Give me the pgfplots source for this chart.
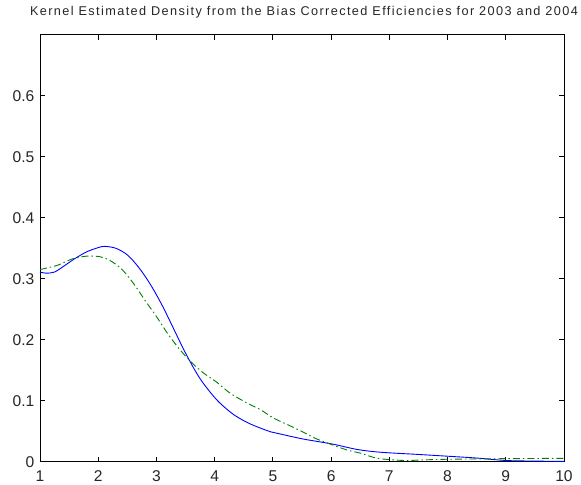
\documentclass[border=0pt]{standalone}
\usepackage{fontspec}
\setmainfont{Liberation Sans}
\newfontfamily\titlefont[LetterSpace=11]{Liberation Sans}
\usepackage{pgfplots}
\pgfplotsset{compat=1.18}

\definecolor{mblue}{RGB}{0,0,255}
\definecolor{mgreen}{RGB}{0,128,0}

% kernel density, 2003 (solid) and 2004 (dash-dot)
\pgfplotstableread{
x y
1.00 0.311
1.10 0.309
1.25 0.311
1.40 0.320
1.60 0.333
1.80 0.344
2.00 0.351
2.11 0.353
2.30 0.350
2.50 0.339
2.70 0.318
2.90 0.290
3.10 0.256
3.30 0.217
3.50 0.178
3.75 0.136
4.04 0.101
4.33 0.077
4.61 0.062
4.96 0.049
5.10 0.046
5.53 0.037
6.02 0.029
6.45 0.020
6.85 0.0155
7.48 0.012
8.00 0.009
8.50 0.006
9.00 0.002
9.50 0.001
10.0 0.0005
}\densityA

\pgfplotstableread{
x y
1.00 0.315
1.30 0.322
1.54 0.332
1.80 0.337
2.03 0.336
2.20 0.330
2.40 0.316
2.60 0.293
2.80 0.265
3.00 0.238
3.20 0.209
3.40 0.184
3.60 0.163
3.80 0.146
4.04 0.130
4.27 0.112
4.56 0.096
4.79 0.085
5.02 0.071
5.27 0.060
5.53 0.048
5.76 0.037
6.04 0.027
6.28 0.019
6.51 0.0138
6.80 0.0055
7.25 0.002
7.60 0.003
8.00 0.004
9.00 0.005
10.0 0.0055
}\densityB

\begin{document}
\begin{tikzpicture}
\useasboundingbox (0,0) rectangle (581bp,485bp);
\begin{axis}[
  at={(40bp,23.3bp)}, anchor=south west,
  width=524bp, height=427bp, scale only axis,
  xmin=1, xmax=10, ymin=0, ymax=0.7,
  xtick={1,...,10},
  ytick={0,0.1,0.2,0.3,0.4,0.5,0.6},
  tick align=inside,
  major tick length=5bp,
  axis line style={line width=0.8bp},
  every tick/.style={black, line width=0.8bp},
  /pgf/number format/assume math mode=true,
  /pgf/number format/fixed,
  /pgf/number format/precision=1,
  ticklabel style={font=\fontsize{15.6bp}{17bp}\selectfont, text=black!85},
  yticklabel style={inner sep=0pt, anchor=east, xshift=-5.5bp},
  xticklabel style={inner sep=0pt, anchor=base, yshift=-19.4bp},
  title={Kernel Estimated Density from the Bias Corrected Efficiencies for 2003 and 2004},
  title style={font=\titlefont\fontsize{12.7bp}{14bp}\selectfont, text=black!85,
    at={(0.5,1)}, anchor=base, yshift=13.3bp, xshift=2bp, inner sep=0pt},
]
\addplot[mblue, line width=0.9bp, smooth, tension=0.5] table {\densityA};
\addplot[mgreen, line width=0.9bp, smooth, tension=0.5,
  dash pattern=on 7bp off 3bp on 1.5bp off 3bp] table {\densityB};
\end{axis}
\end{tikzpicture}
\end{document}
